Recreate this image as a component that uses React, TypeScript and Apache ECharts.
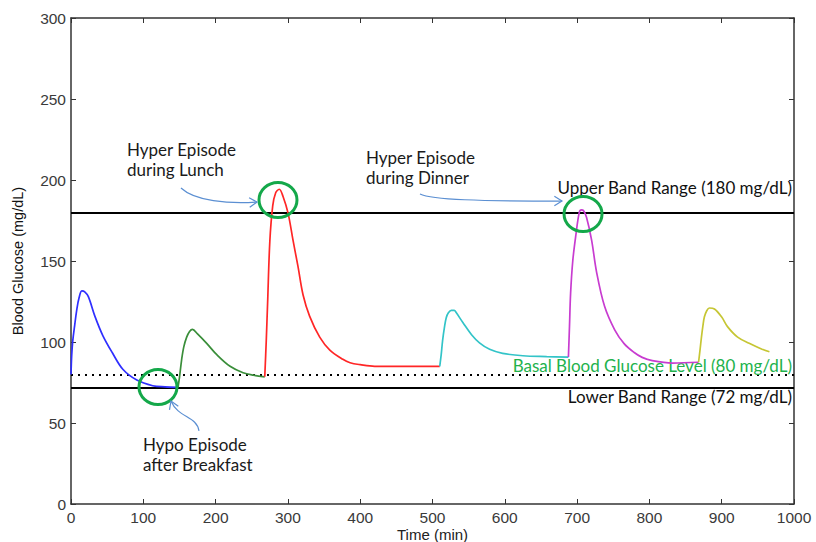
import React, { useEffect, useRef } from "react";
import * as echarts from "echarts";

// ---- Data (time in min, blood glucose in mg/dL) ----
const blueT = [0, 1, 2.5, 5, 8, 11, 15, 19, 24, 33, 44, 57, 72, 91, 113, 130, 147];
const blueV = [80, 92, 101, 110, 120, 127, 131.5, 131, 128, 116, 104, 93.5, 83, 76.5, 73, 72.3, 72];

const greenT = [148, 150, 153, 156, 160, 164, 168, 175, 188, 202, 220, 238, 252, 268];
const greenV = [72, 78, 89, 97, 103, 106.5, 107.8, 105, 99, 92, 85, 81, 79.5, 78.5];

const redT = [268, 270, 272, 275, 279, 283, 288, 293.4, 300.3, 307, 314, 321, 330, 344, 358, 376, 386, 400, 420, 460, 510];
const redV = [78.5, 100, 125, 162, 184, 192, 194.3, 189.7, 179.4, 163, 146.5, 129, 116, 103, 95, 89.3, 87.2, 86, 85, 85, 85];

const cyanT = [510, 512, 514, 516.5, 519, 522, 526, 530, 533, 542, 554, 565, 579, 597, 625, 658, 688];
const cyanV = [85, 92, 101, 109, 115, 118, 119.5, 119.5, 118, 112, 104.5, 99.5, 95.5, 93, 91.5, 91, 90.7];

const magentaT = [688, 689.5, 691, 694, 698, 703, 706, 709, 713, 720, 727, 738, 752, 765, 779, 790, 804, 832, 868];
const magentaV = [90.7, 110, 130, 150, 165, 180, 181.5, 181, 177, 163, 143, 122, 107.5, 99, 93.5, 90.5, 88.5, 87, 87.5];

const yellowT = [868, 870, 872, 874, 876, 879, 883, 890, 900, 908, 922, 938, 955, 966];
const yellowV = [87.5, 95, 103, 110, 115.4, 119, 121, 120.4, 115.4, 109.5, 103, 99.2, 95.7, 94];

const upperBand = 180;
const lowerBand = 72;
const basalLevel = 80;

const xTickLabels = ["0", "100", "200", "300", "400", "500", "600", "700", "800", "900", "1000"];
const yTickLabels = ["0", "50", "100", "150", "200", "250", "300"];

// Annotation anchors (data coordinates)
const circleCenters = [
  [120.3, 72.2],
  [286.3, 187.7],
  [708.2, 179],
];
// arrows: tail, control1, control2, tip
const arrows = [
  [[152.1, 195.1], [171.5, 187], [217.2, 185.2], [257.3, 186.4]],
  [[482.7, 191.4], [499.3, 187.7], [565.7, 187], [679.1, 187]],
  [[177, 45.1], [174.2, 54.3], [148, 53.1], [138.3, 63.6]],
];
const noteTexts = ["Hyper Episode\nduring Lunch", "Hyper Episode\nduring Dinner", "Hypo Episode\nafter Breakfast"];
const notePositions = [
  [77.5, 225],
  [408, 220],
  [99.6, 43],
];

const zip = (t: number[], v: number[]) => t.map((x, i) => [x, v[i]]);

export default function App() {
  const ref = useRef<HTMLDivElement>(null);
  useEffect(() => {
    if (!ref.current) return;
    const chart = echarts.init(ref.current, null, { renderer: "svg" });
    const axisColor = "#333";
    const tickFont = { color: "#3a3a3a", fontFamily: "Liberation Sans, Arial", fontSize: 15.5, lineHeight: 15 };
    const lineSeries = (name: string, t: number[], v: number[], color: string, extra: any = {}) => ({
      name,
      type: "line",
      data: zip(t, v),
      showSymbol: false,
      symbol: "none",
      smooth: 0.35,
      lineStyle: { color, width: 1.7 },
      z: 3,
      ...extra,
    });
    chart.setOption({
      animation: false,
      backgroundColor: "#fff",
      grid: { left: 71, right: 22, top: 18, bottom: 38, containLabel: false, outerBoundsMode: "none" },
      xAxis: [
        {
          type: "value",
          min: 0,
          max: 1000,
          interval: 100,
          position: "bottom",
          name: "Time (min)",
          nameLocation: "middle",
          nameGap: 30,
          nameMoveOverlap: false,
          nameTextStyle: { color: "#222", fontFamily: "Liberation Sans, Arial", fontSize: 15, lineHeight: 14, verticalAlign: "middle" },
          axisLine: { show: true, onZero: false, lineStyle: { color: axisColor, width: 1.5 } },
          axisTick: { show: true, inside: true, length: 5, lineStyle: { color: axisColor } },
          axisLabel: { ...tickFont, margin: 6, formatter: (v: number) => xTickLabels[Math.round(v / 100)] ?? "" },
          splitLine: { show: false },
        },
        {
          type: "value",
          min: 0,
          max: 1000,
          interval: 100,
          position: "top",
          axisLine: { show: true, onZero: false, lineStyle: { color: axisColor, width: 1.5 } },
          axisTick: { show: true, inside: true, length: 5, lineStyle: { color: axisColor } },
          axisLabel: { show: false },
          splitLine: { show: false },
        },
      ],
      yAxis: [
        {
          type: "value",
          min: 0,
          max: 300,
          interval: 50,
          position: "left",
          name: "Blood Glucose (mg/dL)",
          nameLocation: "middle",
          nameGap: 46,
          nameTextStyle: { color: "#111", fontFamily: "Liberation Sans, Arial", fontSize: 14.5 },
          axisLine: { show: true, onZero: false, lineStyle: { color: axisColor, width: 1.5 } },
          axisTick: { show: true, inside: true, length: 5, lineStyle: { color: axisColor } },
          axisLabel: { ...tickFont, margin: 5, formatter: (v: number) => yTickLabels[Math.round(v / 50)] ?? "" },
          splitLine: { show: false },
        },
        {
          type: "value",
          min: 0,
          max: 300,
          interval: 50,
          position: "right",
          axisLine: { show: true, onZero: false, lineStyle: { color: axisColor, width: 1.5 } },
          axisTick: { show: true, inside: true, length: 5, lineStyle: { color: axisColor } },
          axisLabel: { show: false },
          splitLine: { show: false },
        },
      ],
      series: [
        lineSeries("blue", blueT, blueV, "#2f2fff", {
          markLine: {
            silent: true,
            symbol: "none",
            z: 2,
            data: [
              {
                yAxis: upperBand,
                lineStyle: { color: "#000", width: 2, type: "solid" },
                label: {
                  show: true,
                  position: "insideEndTop",
                  distance: [2, 16],
                  formatter: "Upper Band Range (180 mg/dL)",
                  color: "#111",
                  fontFamily: "Lato",
                  fontSize: 17,
                },
              },
              {
                yAxis: basalLevel,
                lineStyle: { color: "#000", width: 2, type: [2, 5] },
                label: {
                  show: true,
                  position: "insideEndTop",
                  distance: [2, 0],
                  formatter: "Basal Blood Glucose Level (80 mg/dL)",
                  color: "#22b24c",
                  fontFamily: "Lato",
                  fontSize: 17,
                },
              },
              {
                yAxis: lowerBand,
                lineStyle: { color: "#000", width: 2, type: "solid" },
                label: {
                  show: true,
                  position: "insideEndBottom",
                  distance: [2, 1],
                  formatter: "Lower Band Range (72 mg/dL)",
                  color: "#111",
                  fontFamily: "Lato",
                  fontSize: 17,
                },
              },
            ],
          },
        }),
        lineSeries("green", greenT, greenV, "#3a8e3a"),
        lineSeries("red", redT, redV, "#ff2626"),
        lineSeries("cyan", cyanT, cyanV, "#33c4c8"),
        lineSeries("magenta", magentaT, magentaV, "#c83cd0"),
        lineSeries("yellow", yellowT, yellowV, "#c6c634"),
      ],
    });

    const toPx = (p: number[]) => chart.convertToPixel({ xAxisIndex: 0, yAxisIndex: 0 }, p) as number[];
    const graphics: any[] = [];
    circleCenters.forEach((c) => {
      const p = toPx(c);
      graphics.push({
        type: "ellipse",
        shape: { cx: p[0], cy: p[1], rx: 19, ry: 17.5 },
        style: { fill: "none", stroke: "#14a84a", lineWidth: 3 },
        z: 10,
      });
    });
    const arrowColor = "#5b8fd2";
    arrows.forEach((a) => {
      const [p1, c1, c2, tip] = a.map(toPx);
      graphics.push({
        type: "bezierCurve",
        shape: { x1: p1[0], y1: p1[1], cpx1: c1[0], cpy1: c1[1], cpx2: c2[0], cpy2: c2[1], x2: tip[0], y2: tip[1] },
        style: { stroke: arrowColor, lineWidth: 1.2, fill: "none" },
        z: 10,
      });
      const dx = tip[0] - c2[0];
      const dy = tip[1] - c2[1];
      const len = Math.hypot(dx, dy) || 1;
      const ux = dx / len;
      const uy = dy / len;
      const L = 9;
      const ang = (32 * Math.PI) / 180;
      const rot = (s: number) => [
        tip[0] - L * (ux * Math.cos(s * ang) - uy * Math.sin(s * ang)),
        tip[1] - L * (uy * Math.cos(s * ang) + ux * Math.sin(s * ang)),
      ];
      graphics.push({
        type: "polyline",
        shape: { points: [rot(1), tip, rot(-1)] },
        style: { stroke: arrowColor, lineWidth: 1.2, fill: "none" },
        z: 10,
      });
    });
    noteTexts.forEach((t, i) => {
      const p = toPx(notePositions[i]);
      graphics.push({
        type: "text",
        x: p[0],
        y: p[1],
        style: { text: t, fill: "#1a1a1a", font: "17px Lato", lineHeight: 20, verticalAlign: "top", align: "left" },
        z: 10,
      });
    });
    chart.setOption({ graphic: graphics });

    return () => chart.dispose();
  }, []);
  return <div ref={ref} style={{ position: "fixed", left: 0, top: 0, width: 816, height: 542 }} />;
}
